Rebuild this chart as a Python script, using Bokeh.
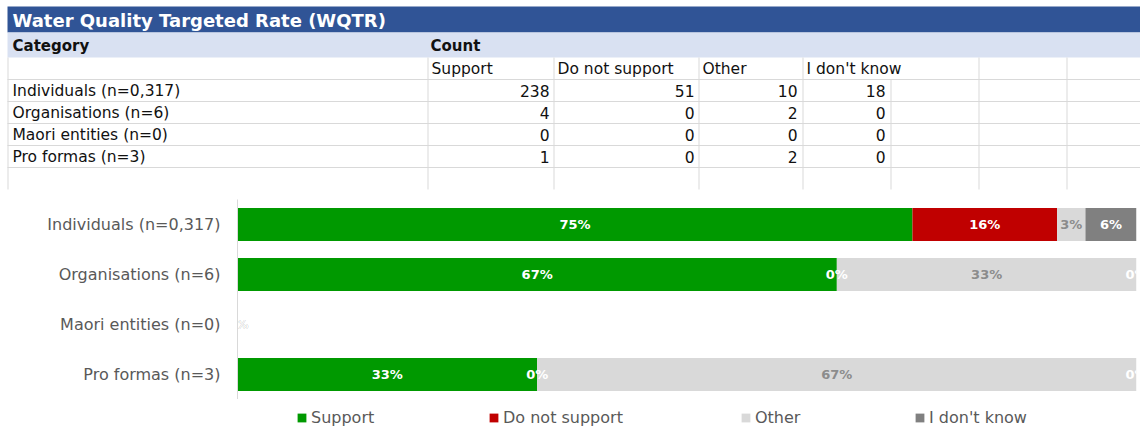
from bokeh.plotting import figure
from bokeh.models import ColumnDataSource, Range1d, FactorRange, Legend, LegendItem
from bokeh.layouts import column, row
from bokeh.embed import file_html
from bokeh.resources import INLINE
from bokeh.core.properties import value

# ---------------- data ----------------
title = "Water Quality Targeted Rate (WQTR)"
categories = ["Individuals (n=0,317)", "Organisations (n=6)", "Maori entities (n=0)", "Pro formas (n=3)"]
series = ["Support", "Do not support", "Other", "I don't know"]
support = [238, 4, 0, 1]
do_not_support = [51, 0, 0, 0]
other = [10, 2, 0, 2]
dont_know = [18, 0, 0, 0]
counts = [support, do_not_support, other, dont_know]

colors = ["#009900", "#C00000", "#D9D9D9", "#808080"]
label_colors = ["white", "white", "#8C8C8C", "white"]

W = 1140
TFONT = value("DejaVu Sans")
CFONT = value("DejaVu Sans")


def bare_figure(h, **kw):
    f = figure(width=W, height=h, x_axis_type=None, y_axis_type=None, toolbar_location=None,
               output_backend="svg", min_border=0, min_border_left=0, min_border_right=0,
               min_border_top=0, min_border_bottom=0, outline_line_color=None, **kw)
    f.grid.visible = False
    return f


# ---------------- table figure ----------------
TH = 192
t = bare_figure(TH, x_range=Range1d(0, W), y_range=Range1d(TH, 0))

title_top, title_bottom, head_bottom = 6, 32, 57
row_h = 22
n_rows = len(categories) + 2  # sub-header + categories + empty row
row_tops = [head_bottom + i * row_h for i in range(n_rows)]
table_bottom = head_bottom + n_rows * row_h
col_lines = [427, 553, 698, 802, 890, 978, 1066]
split_col = 890

t.quad(left=7, right=W + 1, top=title_top, bottom=title_bottom, fill_color="#305496", line_color=None)
t.quad(left=7, right=W + 1, top=title_bottom, bottom=head_bottom, fill_color="#D9E1F2", line_color=None)

grid_c = "#D9D9D9"
hy = row_tops[1:n_rows]
t.segment(x0=[7] * len(hy), x1=[W] * len(hy), y0=hy, y1=hy, line_color=grid_c, line_width=1)
vx = [7.5] + [c + 0.5 for c in col_lines if c != split_col]
t.segment(x0=vx, x1=vx, y0=[head_bottom] * len(vx), y1=[table_bottom] * len(vx), line_color=grid_c, line_width=1)
t.segment(x0=[split_col + 0.5], x1=[split_col + 0.5], y0=[row_tops[1]], y1=[table_bottom],
          line_color=grid_c, line_width=1)

t.text(x=[12], y=[(title_top + title_bottom) / 2 + 1], text=[title], text_color="white",
       text_font=TFONT, text_font_style="bold", text_font_size="18px", text_baseline="middle")
t.text(x=[12, 430], y=[(title_bottom + head_bottom) / 2 + 0.5] * 2, text=["Category", "Count"],
       text_color="#111111", text_font=TFONT, text_font_style="bold", text_font_size="15px",
       text_baseline="middle")

sub_x = [col_lines[i] + 4 for i in range(4)]
t.text(x=sub_x, y=[row_tops[0] + row_h / 2 + 0.5] * 4, text=series, text_color="#111111",
       text_font=TFONT, text_font_size="15.5px", text_baseline="middle")

row_y = [row_tops[1 + i] + row_h / 2 + 0.5 for i in range(len(categories))]
t.text(x=[12] * len(categories), y=row_y, text=categories, text_color="#111111",
       text_font=TFONT, text_font_size="15.5px", text_baseline="middle")

num_right = [col_lines[1] - 4, col_lines[2] - 4, col_lines[3] - 5, col_lines[4] - 5]
nx, ny, nt = [], [], []
for j, s in enumerate(counts):
    for i, v in enumerate(s):
        nx.append(num_right[j]); ny.append(row_y[i]); nt.append(str(v))
t.text(x=nx, y=ny, text=nt, text_color="#111111", text_font=TFONT, text_font_size="15.5px",
       text_baseline="middle", text_align="right")

# ---------------- bar chart ----------------
totals = [sum(c[i] for c in counts) for i in range(len(categories))]
frac = {}
for name, c in zip(series, counts):
    frac[name] = [(v / tot if tot else 0.0) for v, tot in zip(c, totals)]
data = {"cat": categories}
data.update(frac)
source = ColumnDataSource(data)

LH = 32
p = figure(width=W, height=431 - TH - LH, y_range=FactorRange(factors=list(reversed(categories))),
           x_range=Range1d(0, 1), x_axis_type=None, toolbar_location=None, output_backend="svg",
           min_border_left=237, min_border_right=4, min_border_top=7, min_border_bottom=0,
           outline_line_color=None)
p.grid.visible = False

p.hbar_stack(series, y="cat", height=0.66, color=colors, line_color=None, source=source)

lx, ly, lt, lc = [], [], [], []
for i, cat in enumerate(categories):
    left = 0.0
    for j, name in enumerate(series):
        f = frac[name][i]
        lx.append(left + f / 2); ly.append(cat); lt.append(f"{round(f * 100):.0f}%"); lc.append(label_colors[j])
        left += f
p.text(x="x", y="y", text="t", text_color="c", text_align="center", text_baseline="middle",
       text_font=CFONT, text_font_style="bold", text_font_size="13px",
       source=ColumnDataSource(dict(x=lx, y=ly, t=lt, c=lc)))

ax = p.yaxis[0]
ax.axis_line_color = "#D9D9D9"
ax.major_tick_line_color = None
ax.minor_tick_line_color = None
ax.major_tick_out = 0
ax.major_tick_in = 0
ax.major_label_text_color = "#595959"
ax.major_label_text_font = "DejaVu Sans"
ax.major_label_text_font_size = "16px"
ax.major_label_standoff = 17

# ---------------- legend strip ----------------
# legend proxies: one hidden bar per series, placed below the visible strip
lg = bare_figure(LH, x_range=Range1d(0, W), y_range=Range1d(0, LH))
leg_x = [296, 488, 740, 914]
for name, col, x in zip(series, colors, leg_x):
    proxy = ColumnDataSource(dict(y=[-100], left=[0], right=[1]))
    r = lg.hbar(y="y", left="left", right="right", height=1, color=col, line_color=None, source=proxy)
    leg = Legend(items=[LegendItem(label=name, renderers=[r])], location=(x, 4),
                 orientation="horizontal", glyph_width=11, glyph_height=11, label_standoff=4,
                 label_height=18, padding=0, margin=0, border_line_color=None,
                 background_fill_alpha=0, label_text_color="#595959",
                 label_text_font="DejaVu Sans", label_text_font_size="16px")
    lg.add_layout(leg)

for fig in (t, p, lg):
    try:
        fig.frame_align = False
    except Exception:
        pass

layout = column(row(t), row(p), row(lg), spacing=0)
open("out.html", "w").write(file_html(layout, INLINE))
